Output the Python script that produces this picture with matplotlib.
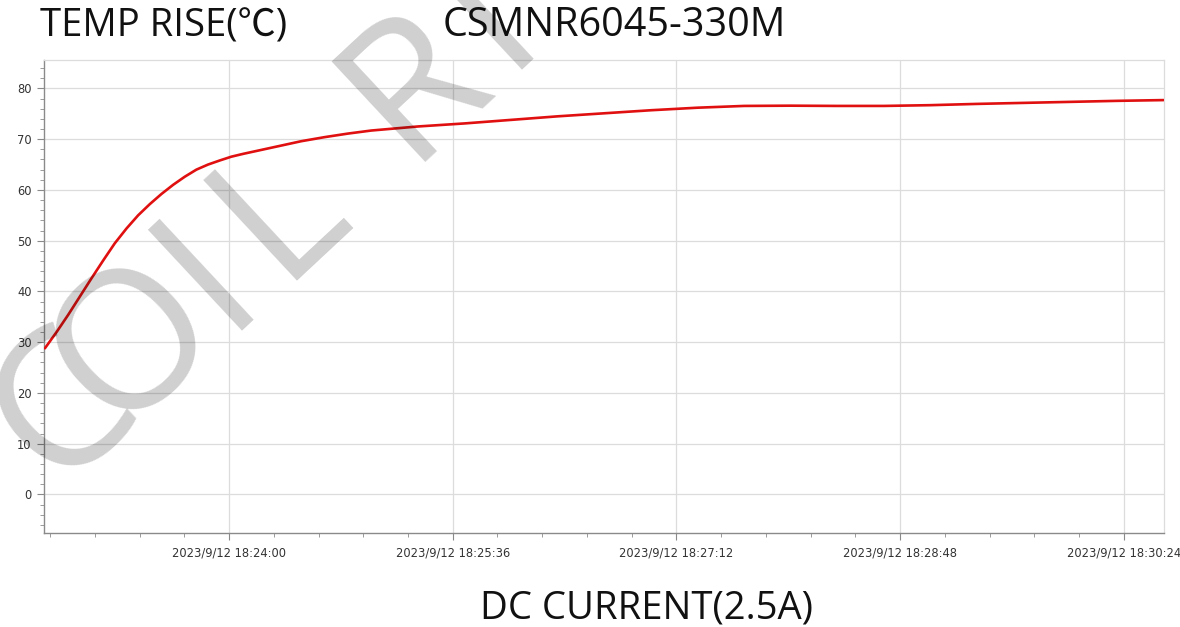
import matplotlib
matplotlib.use("Agg")
import matplotlib.pyplot as plt
import matplotlib.dates as mdates
from matplotlib.ticker import MultipleLocator, FixedLocator, FuncFormatter
import pandas as pd
import numpy as np

# ---- data ----
times = ["18:22:41", "18:22:46", "18:22:51", "18:22:56", "18:23:01", "18:23:06",
         "18:23:11", "18:23:16", "18:23:21", "18:23:26", "18:23:31", "18:23:36",
         "18:23:41", "18:23:46", "18:23:51", "18:23:56", "18:24:01", "18:24:06",
         "18:24:11", "18:24:21", "18:24:31", "18:24:41", "18:24:51", "18:25:01",
         "18:25:11", "18:25:21", "18:25:41", "18:26:01", "18:26:21", "18:26:41",
         "18:27:01", "18:27:21", "18:27:41", "18:28:01", "18:28:21", "18:28:41",
         "18:29:01", "18:29:21", "18:29:41", "18:30:01", "18:30:21", "18:30:41"]
temps = [28.8, 32.0, 35.4, 39.0, 42.6, 46.1,
         49.5, 52.4, 55.0, 57.2, 59.2, 61.0,
         62.6, 64.0, 65.0, 65.8, 66.55, 67.1,
         67.6, 68.6, 69.6, 70.4, 71.1, 71.7,
         72.1, 72.5, 73.1, 73.8, 74.5, 75.1,
         75.7, 76.2, 76.55, 76.6, 76.55, 76.55,
         76.7, 76.95, 77.15, 77.35, 77.55, 77.7]
date = "2023-09-12"
x_tick_times = ["18:24:00", "18:25:36", "18:27:12", "18:28:48", "18:30:24"]
y_ticks = [0, 10, 20, 30, 40, 50, 60, 70, 80]

title_left = "TEMP RISE(℃)"
title_mid = "CSMNR6045-330M"
x_label = "DC CURRENT(2.5A)"
watermark_letters = ["C", "O", "I", "L", "R", "I"]

# ---- figure ----
W, H = 1180, 627
fig = plt.figure(figsize=(W / 100, H / 100), dpi=100)
ax = fig.add_axes([44 / W, 1 - 533 / H, (1164 - 44) / W, (533 - 60) / H])

tx = pd.to_datetime([f"{date} {t}" for t in times])
ax.plot(tx, temps, color="#e01010", lw=1.9, solid_capstyle="round",
        solid_joinstyle="round", zorder=3)

start = pd.Timestamp(f"{date} 18:22:40.6")
end = pd.Timestamp(f"{date} 18:30:41.2")
ax.set_xlim(mdates.date2num(start), mdates.date2num(end))
ax.set_ylim(-7.6, 85.6)

major_x = mdates.date2num(pd.to_datetime([f"{date} {t}" for t in x_tick_times]))
ax.xaxis.set_major_locator(FixedLocator(major_x))
step = (major_x[1] - major_x[0]) / 5
minor_x = np.arange(major_x[0] - 10 * step, major_x[-1] + 5 * step, step)
ax.xaxis.set_minor_locator(FixedLocator(minor_x))


def fmt(v, pos):
    d = mdates.num2date(v)
    return f"{d.year}/{d.month}/{d.day} {d:%H:%M:%S}"


ax.xaxis.set_major_formatter(FuncFormatter(fmt))
ax.yaxis.set_major_locator(FixedLocator(y_ticks))
ax.yaxis.set_minor_locator(MultipleLocator(2))

ax.grid(True, which="major", color="#dcdcdc", lw=0.9)
ax.set_axisbelow(True)
for s in ["top", "right"]:
    ax.spines[s].set_color("#dcdcdc")
    ax.spines[s].set_linewidth(0.9)
for s in ["left", "bottom"]:
    ax.spines[s].set_color("#8a8a8a")
    ax.spines[s].set_linewidth(1.0)

ax.tick_params(axis="both", which="major", length=5, width=0.8, color="#8a8a8a",
               labelsize=8.3, labelcolor="#333333", pad=4)
ax.tick_params(axis="both", which="minor", length=3, width=0.6, color="#8a8a8a")
ax.tick_params(axis="x", which="major", pad=5)
for lab in ax.get_xticklabels() + ax.get_yticklabels():
    lab.set_family("DejaVu Sans")

fam = ["Open Sans", "Noto Sans CJK SC", "DejaVu Sans"]
fig.text(40 / W, 1 - 36 / H, title_left, fontsize=27.5, family=fam, color="#111111",
         ha="left", va="baseline")
fig.text(443 / W, 1 - 36 / H, title_mid, fontsize=28.5, family=fam, color="#111111",
         ha="left", va="baseline")
fig.text(646 / W, 1 - 619 / H, x_label, fontsize=27.5, family=fam, color="#111111",
         ha="center", va="baseline")

# watermark: letters laid along a 43 degree baseline
ang = np.deg2rad(43)
ux, uy = np.cos(ang), -np.sin(ang)      # baseline direction in pixel coords
ox, oy = 243, 313                        # baseline point under the first "I"
offsets = [-196, -100, 0, 98, 282, 383]  # letter centres along the baseline
for ch, d in zip(watermark_letters, offsets):
    px, py = ox + d * ux, oy + d * uy
    fig.text(px / W, 1 - py / H, ch, fontsize=139, family="Open Sans",
             color="black", alpha=0.19, rotation=43, rotation_mode="anchor",
             ha="center", va="baseline", zorder=20)

fig.savefig("out.png", dpi=100)
